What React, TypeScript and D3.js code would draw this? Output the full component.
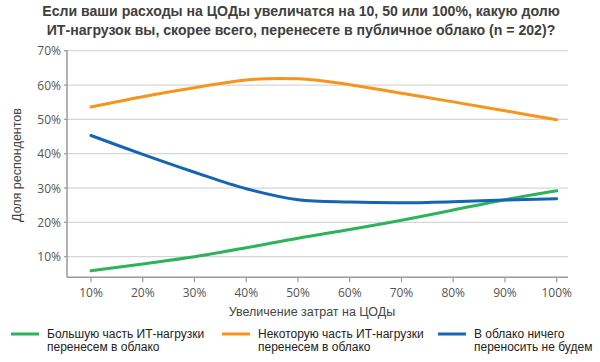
import React from 'react';
import * as d3 from 'd3';

// Increase in data-centre costs, %
const costSteps = [10, 20, 30, 40, 50, 60, 70, 80, 90, 100];
const yTicks = [10, 20, 30, 40, 50, 60, 70];

// share of respondents, %
const mostWorkloads = [5.9, 7.9, 10.0, 12.6, 15.4, 17.9, 20.6, 23.6, 26.6, 29.2];
const someWorkloads = [53.6, 56.6, 59.2, 61.5, 61.8, 60.1, 57.6, 55.1, 52.5, 49.9];
const nothingMoved = [45.3, 39.8, 34.6, 29.8, 26.6, 25.9, 25.7, 26.0, 26.5, 26.9];

const seriesNames = [
  ['Большую часть ИТ-нагрузки', 'перенесем в облако'],
  ['Некоторую часть ИТ-нагрузки', 'перенесем в облако'],
  ['В облако ничего', 'переносить не будем'],
];
const seriesColors = ['#2eb35c', '#f7941d', '#1565b5'];

const titleLines = [
  'Если ваши расходы на ЦОДы увеличатся на 10, 50 или 100%, какую долю',
  'ИТ-нагрузок вы, скорее всего, перенесете в публичное облако (n = 202)?',
];

const App = () => {
  const width = 600, height = 362;
  const axisLeft = 67, axisRight = 568, axisBottom = 277.3;

  const x = d3.scaleLinear().domain([10, 100]).range([91, 556.7]);
  const y = d3.scaleLinear().domain([4, 70]).range([axisBottom, 50.7]);

  const line = d3.line<number>()
    .x((d, i) => x(costSteps[i]))
    .y(d => y(d))
    .curve(d3.curveCatmullRom.alpha(0.5));

  const allSeries = [mostWorkloads, someWorkloads, nothingMoved];
  const legendX = [11, 222, 438];
  const font = '"Liberation Sans", Arial, sans-serif';
  const tickFont = '"Open Sans", "Liberation Sans", sans-serif';

  return (
    <svg width={width} height={height}
      style={{ position: 'absolute', left: 0, top: 0, background: '#fff' }}>
      {titleLines.map((t, i) => (
        <text key={i} x={301} y={16 + i * 18.5} textAnchor="middle"
          fontFamily={font} fontWeight="bold" fontSize={14.1} fill="#404040">{t}</text>
      ))}

      {yTicks.map(t => (
        <g key={t}>
          <line x1={axisLeft} x2={axisRight} y1={y(t)} y2={y(t)} stroke="#d6d6d6" strokeWidth={1.3} />
          <line x1={axisLeft - 3} x2={axisLeft} y1={y(t)} y2={y(t)} stroke="#9a9a9a" strokeWidth={1.2} />
          <text x={61} y={y(t) + 4.5} textAnchor="end" fontFamily={tickFont}
            fontSize={12} fill="#555">{t}%</text>
        </g>
      ))}

      <line x1={axisLeft} x2={axisLeft} y1={50} y2={axisBottom} stroke="#9a9a9a" strokeWidth={1.5} />
      <line x1={axisLeft} x2={axisRight} y1={axisBottom} y2={axisBottom} stroke="#9a9a9a" strokeWidth={1.5} />

      {costSteps.map(c => (
        <g key={c}>
          <line x1={x(c)} x2={x(c)} y1={axisBottom} y2={axisBottom + 5} stroke="#9a9a9a" strokeWidth={1.2} />
          <text x={x(c)} y={297} textAnchor="middle" fontFamily={tickFont}
            fontSize={12} fill="#555">{c}%</text>
        </g>
      ))}

      <text x={312} y={316} textAnchor="middle" fontFamily={font} fontSize={12.5} fill="#444">
        Увеличение затрат на ЦОДы
      </text>
      <text transform={`translate(21,165) rotate(-90)`} textAnchor="middle"
        fontFamily={font} fontSize={12.5} fill="#444">Доля респондентов</text>

      {allSeries.map((s, i) => (
        <path key={i} d={line(s) ?? ''} fill="none" stroke={seriesColors[i]}
          strokeWidth={3} strokeLinecap="round" />
      ))}

      {seriesNames.map((n, i) => (
        <g key={i} transform={`translate(${legendX[i]},0)`}>
          <line x1={0} x2={28} y1={334} y2={334} stroke={seriesColors[i]} strokeWidth={3} />
          <text x={36} y={337.5} fontFamily={font} fontSize={12} fill="#222">{n[0]}</text>
          <text x={36} y={351} fontFamily={font} fontSize={12} fill="#222">{n[1]}</text>
        </g>
      ))}
    </svg>
  );
};

export default App;
